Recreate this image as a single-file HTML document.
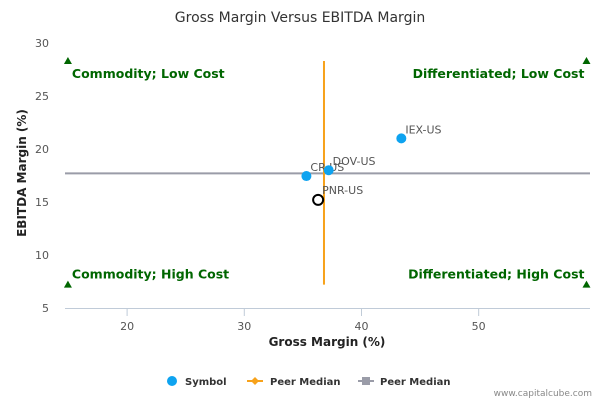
<!DOCTYPE html>
<html><head><meta charset="utf-8"><style>
body{margin:0;background:#fff;font-family:"Liberation Sans","DejaVu Sans",sans-serif}
svg text{font-family:"DejaVu Sans","Liberation Sans",sans-serif}
</style></head><body>
<svg id="c" width="600" height="400" xmlns="http://www.w3.org/2000/svg">
<text x="300" y="22" text-anchor="middle" font-size="14" fill="#333">Gross Margin Versus EBITDA Margin</text>
<g id="axes"></g>
<g id="marks"></g>
<text x="327" y="346" text-anchor="middle" font-size="12" font-weight="bold" fill="#222">Gross Margin (%)</text>
<text transform="translate(26,173) rotate(-90)" text-anchor="middle" font-size="12" font-weight="bold" fill="#222">EBITDA Margin (%)</text>
<g font-size="10" font-weight="bold" fill="#333">
<g><circle cx="172" cy="381" r="5" fill="#0ea3f0"/><text x="185" y="385">Symbol</text></g>
<g><line x1="247" y1="381" x2="263" y2="381" stroke="#f7a21b" stroke-width="2"/><path d="M255 377 L259 381 L255 385 L251 381Z" fill="#f7a21b"/><text x="270" y="385">Peer Median</text></g>
<g><line x1="358" y1="381" x2="374" y2="381" stroke="#9a9ca8" stroke-width="2"/><rect x="362" y="377" width="8" height="8" fill="#9a9ca8"/><text x="380" y="385">Peer Median</text></g>
</g>
<text x="592" y="396" text-anchor="end" font-size="9" fill="#888">www.capitalcube.com</text>
</svg>
<script>
const xTicks=[20,30,40,50];
const yTicks=[5,10,15,20,25,30];
const symbols=["IEX-US","CR-US","DOV-US"];
const symX=[43.4,35.3,37.2];
const symY=[21.0,17.45,18.0];
const selfName=["PNR-US"];
const selfX=[36.3];
const selfY=[15.2];
const medianX=[36.8];
const medianY=[17.7];
const quadrants=["Commodity; Low Cost","Differentiated; Low Cost","Commodity; High Cost","Differentiated; High Cost"];
const NS="http://www.w3.org/2000/svg";
const L=65,R=590,T=43,B=308;
const xmin=14.7,xmax=59.5,ymin=5,ymax=30;
const sx=v=>L+(v-xmin)/(xmax-xmin)*(R-L);
const sy=v=>B-(v-ymin)/(ymax-ymin)*(B-T);
function mk(tag,at,parent){const e=document.createElementNS(NS,tag);for(const k in at)e.setAttribute(k,at[k]);parent.appendChild(e);return e;}
const ax=document.getElementById('axes'),mg=document.getElementById('marks');
let e=mk('line',{x1:L,y1:B+0.5,x2:R,y2:B+0.5,stroke:'#c0cbd8'},ax);


xTicks.forEach(t=>{const x=sx(t);
 let l=mk('line',{x1:x,y1:B,x2:x,y2:B+8,stroke:'#c0cbd8'},ax);
 
 
 let tx=mk('text',{x:x,y:B+22,'text-anchor':'middle','font-size':11,fill:'#555'},ax);tx.textContent=t;
 
 });
yTicks.forEach(t=>{let tx=mk('text',{x:49,y:sy(t)+4,'text-anchor':'end','font-size':11,fill:'#555'},ax);tx.textContent=t;
 
 });
e=mk('line',{x1:L,y1:sy(medianY[0]),x2:R,y2:sy(medianY[0]),stroke:'#9a9ca8','stroke-width':2},mg);


e=mk('line',{x1:sx(medianX[0]),y1:sy(28.3),x2:sx(medianX[0]),y2:sy(7.2),stroke:'#f7a21b','stroke-width':2},mg);


const qx=[sx(14.95),sx(59.2),sx(14.95),sx(59.2)],qy=[sy(28.3),sy(28.3),sy(7.2),sy(7.2)];
quadrants.forEach((q,i)=>{const x=qx[i],y=qy[i];
 let p=mk('path',{d:`M${x} ${y-4} L${x+4} ${y+3} L${x-4} ${y+3}Z`,fill:'#006600'},mg);
 
 
 const left=i%2==0, top=i<2;
 let t=mk('text',{x:left?x+4:x-2,y:top?y+17:y-6,'text-anchor':left?'start':'end','font-size':12.5,'font-weight':'bold',fill:'#006600'},mg);t.textContent=q;
 
 });
symbols.forEach((s,i)=>{const x=sx(symX[i]),y=sy(symY[i]);
 let c=mk('circle',{cx:x,cy:y,r:5,fill:'#0ea3f0'},mg);
 
 
 let t=mk('text',{x:x+4,y:y-5,'font-size':11,fill:'#555'},mg);t.textContent=s;
 
 });
selfName.forEach((s,i)=>{const x=sx(selfX[i]),y=sy(selfY[i]);
 let c=mk('circle',{cx:x,cy:y,r:5,fill:'#fff',stroke:'#000','stroke-width':2},mg);
 
 
 let t=mk('text',{x:x+4,y:y-6,'font-size':11,fill:'#555'},mg);t.textContent=s;
 
 });
</script>
</body></html>
